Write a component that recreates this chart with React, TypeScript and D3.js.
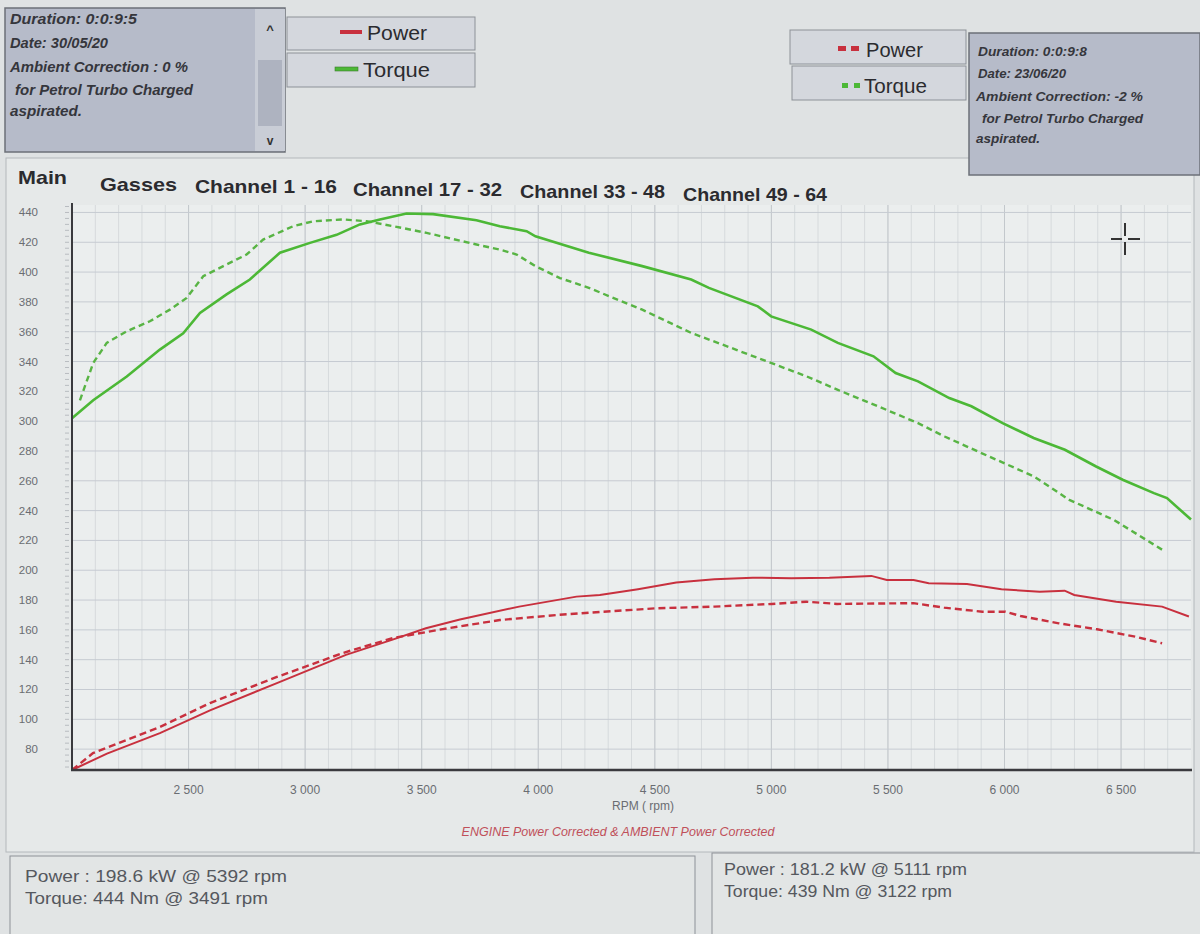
import React from "react";
import * as d3 from "d3";

// ---- Data (rpm, value) ----
const torqueSolid: [number, number][] = [
  [2000, 302], [2091, 314], [2235, 330], [2377, 348], [2477, 359], [2549, 372.6],
  [2663, 385], [2763, 395], [2892, 413], [3021, 419.6], [3135, 425], [3235, 432],
  [3321, 435.3], [3435, 439.3], [3549, 438.9], [3735, 434.8], [3835, 430.8], [3950, 427.4],
  [3988, 424], [4217, 413], [4446, 404], [4656, 395], [4732, 389.4], [4942, 377],
  [4999, 370.3], [5171, 361.4], [5285, 352.5], [5438, 343.5], [5533, 332.3], [5629, 326.7],
  [5763, 315.5], [5858, 310], [5992, 298.7], [6125, 288.7], [6259, 280.8], [6393, 269.6],
  [6507, 260.7], [6641, 251.7], [6697, 248.4], [6800, 234],
];
const torqueDashed: [number, number][] = [
  [2034, 314], [2091, 339], [2149, 352.5], [2235, 360.3], [2334, 367], [2420, 374.8],
  [2492, 382.7], [2563, 397.2], [2649, 404], [2749, 411.8], [2820, 421.8], [2949, 430.8],
  [3035, 434.1], [3163, 435.3], [3264, 434.1], [3378, 430.8], [3521, 426.3], [3735, 418.5],
  [3835, 415.1], [3907, 411.8], [3988, 404], [4093, 396], [4217, 389.4], [4446, 374.8],
  [4656, 359.2], [4847, 348], [5152, 330], [5285, 321], [5457, 310], [5629, 298.7],
  [5743, 289.7], [5934, 276.3], [6125, 263], [6278, 247.2], [6469, 233.8], [6678, 213.6],
];
const powerSolid: [number, number][] = [
  [2000, 66], [2150, 77], [2377, 90.7], [2592, 106], [2879, 124.3], [3175, 143.2],
  [3372, 153.3], [3518, 161.1], [3664, 167], [3918, 175.6], [4164, 182.3], [4264, 183.4],
  [4428, 187.3], [4592, 191.7], [4756, 194], [4920, 195], [5085, 194.6], [5249, 195],
  [5429, 196.2], [5495, 193.5], [5610, 193.5], [5675, 191.3], [5839, 190.8], [5987, 187.3],
  [6151, 185.6], [6258, 186.3], [6299, 183.4], [6479, 178.9], [6676, 175.6], [6791, 169],
];
const powerDashed: [number, number][] = [
  [2000, 66], [2090, 77.3], [2377, 94.8], [2592, 110.9], [2879, 128.4], [3162, 144.5],
  [3376, 154.5], [3590, 160.5], [3835, 166.6], [4082, 170], [4280, 172.2],
  [4510, 174.5], [4756, 175.6], [5002, 177.4], [5150, 178.9], [5282, 177.4], [5610, 177.9],
  [5741, 174.9], [5905, 172.2], [6004, 172.2], [6069, 169.3], [6233, 164.4], [6397, 160.4],
  [6562, 155.4], [6676, 151],
];

const xTicks = [2500, 3000, 3500, 4000, 4500, 5000, 5500, 6000, 6500];
const yTicks = d3.range(80, 441, 20);
const tabs = ["Gasses", "Channel 1 - 16", "Channel 17 - 32", "Channel 33 - 48", "Channel 49 - 64"];
const leftInfo = ["Duration: 0:0:9:5", "Date: 30/05/20", "Ambient Correction : 0 %", "for Petrol Turbo Charged", "aspirated."];
const rightInfo = ["Duration: 0:0:9:8", "Date: 23/06/20", "Ambient Correction: -2 %", "for Petrol Turbo Charged", "aspirated."];
const leftSummary = ["Power : 198.6 kW @ 5392 rpm", "Torque: 444 Nm @ 3491 rpm"];
const rightSummary = ["Power : 181.2 kW @ 5111 rpm", "Torque: 439 Nm @ 3122 rpm"];

const RED = "#c8303e";
const GREEN = "#4cb836";
const GREEN_D = "#58b444";
const FONT = "'Liberation Sans', Arial, sans-serif";

export default function App() {
  const x = d3.scaleLinear().domain([2000, 6800]).range([72, 1191]);
  const y = d3.scaleLinear().domain([66, 445]).range([770, 205]);
  const line = d3
    .line<[number, number]>()
    .x((d) => x(d[0]))
    .y((d) => y(d[1]));
  const fmt = (v: number) => d3.format(",")(v).replace(",", " ");
  const minorY = d3.range(68, 445, 4);
  const minorX = d3.range(2100, 6800, 100);

  const tabX = [100, 195, 353, 520, 683];
  const tabY = [191, 193, 196, 198, 201];
  const tabW = [77, 142, 149, 145, 144];
  const infoX = [10, 10, 10, 15, 10];
  const infoY = [24, 48, 72, 95, 116];
  const infoW = [127, 98, 178, 178, 72];
  const rInfoX = [978, 978, 976, 982, 976];
  const rInfoY = [56, 78, 101, 123, 143];
  const rInfoW = [109, 88, 167, 161, 64];
  const lsW = [262, 243];
  const rsW = [243, 228];

  return (
    <svg
      width={1200}
      height={934}
      style={{ position: "absolute", left: 0, top: 0 }}
      fontFamily={FONT}
    >
      <rect x={0} y={0} width={1200} height={934} fill="#dfe2e3" />
      {/* chart panel */}
      <rect x={6} y={158} width={1188} height={694} fill="#e6e9e9" stroke="#b4b8bc" strokeWidth={1} />
      <rect x={72} y={205} width={1119} height={565} fill="#ebeeee" />

      {/* minor vertical grid */}
      {minorX.map((v) => (
        <line key={"mx" + v} x1={x(v)} x2={x(v)} y1={205} y2={770} stroke="#d6dadc" strokeWidth={1} />
      ))}
      {/* major vertical grid */}
      {xTicks.map((v) => (
        <line key={"vx" + v} x1={x(v)} x2={x(v)} y1={205} y2={770} stroke="#c3c8cc" strokeWidth={1} />
      ))}
      {/* horizontal grid */}
      {yTicks.map((v) => (
        <line key={"hy" + v} x1={72} x2={1191} y1={y(v)} y2={y(v)} stroke="#c6cbd2" strokeWidth={1} />
      ))}

      {/* curves */}
      <path d={line(torqueDashed) || ""} fill="none" stroke={GREEN_D} strokeWidth={2.4} strokeDasharray="6 4" />
      <path d={line(powerDashed) || ""} fill="none" stroke={RED} strokeWidth={2.4} strokeDasharray="7 4" />
      <path d={line(torqueSolid) || ""} fill="none" stroke={GREEN} strokeWidth={2.6} />
      <path d={line(powerSolid) || ""} fill="none" stroke={RED} strokeWidth={2} />

      {/* axes */}
      <line x1={72} x2={72} y1={203} y2={771} stroke="#3a3a3e" strokeWidth={2} />
      <line x1={71} x2={1192} y1={770} y2={770} stroke="#3a3a3e" strokeWidth={2.5} />
      {minorY.map((v) => (
        <line key={"my" + v} x1={65} x2={69} y1={y(v)} y2={y(v)} stroke="#b8bcc0" strokeWidth={1} />
      ))}

      {/* y tick labels */}
      {yTicks.map((v) => (
        <text key={"yl" + v} x={38} y={y(v) + 4} textAnchor="end" fontSize={11.5} fill="#6a6d72">
          {v}
        </text>
      ))}
      {/* x tick labels */}
      {xTicks.map((v) => (
        <text key={"xl" + v} x={x(v)} y={794} textAnchor="middle" fontSize={12} fill="#6a6d72">
          {fmt(v)}
        </text>
      ))}
      <text x={643} y={810} textAnchor="middle" fontSize={12} fill="#6a6d72">RPM ( rpm)</text>
      <text x={618} y={836} textAnchor="middle" fontSize={12.5} fontStyle="italic" fill="#c0505a">
        ENGINE Power Corrected &amp; AMBIENT Power Corrected
      </text>

      {/* tabs */}
      <text x={18} y={184} fontSize={19} fontWeight="bold" fill="#2b2b2f" textLength={49} lengthAdjust="spacingAndGlyphs">Main</text>
      {tabs.map((t, i) => (
        <text key={t} x={tabX[i]} y={tabY[i]} fontSize={19} fontWeight="bold" fill="#2b2b2f" textLength={tabW[i]} lengthAdjust="spacingAndGlyphs">{t}</text>
      ))}

      {/* left info box */}
      <rect x={5} y={8} width={280} height={144} fill="#b6bbc9" stroke="#6c7078" strokeWidth={1.5} />
      <rect x={255} y={9} width={30} height={142} fill="#c9cdd6" />
      <rect x={258} y={60} width={24} height={66} fill="#aeb3c0" />
      <text x={270} y={34} textAnchor="middle" fontSize={13} fontWeight="bold" fill="#333">^</text>
      <text x={270} y={145} textAnchor="middle" fontSize={12} fontWeight="bold" fill="#333">v</text>
      {leftInfo.map((t, i) => (
        <text key={"li" + i} x={infoX[i]} y={infoY[i]} fontSize={14} fontWeight="bold" fontStyle="italic" fill="#35363c" textLength={infoW[i]} lengthAdjust="spacingAndGlyphs">
          {t}
        </text>
      ))}

      {/* left legend */}
      <rect x={287} y={17} width={188} height={33} fill="#d4d7dd" stroke="#8d9198" strokeWidth={1} />
      <rect x={287} y={53} width={188} height={34} fill="#d4d7dd" stroke="#8d9198" strokeWidth={1} />
      <rect x={340} y={30} width={22} height={4} fill={RED} />
      <rect x={335} y={67} width={23} height={4} fill={GREEN} stroke="#3e7a30" strokeWidth={0.6} />
      <text x={367} y={40} fontSize={20} fill="#2b2b2f" textLength={60} lengthAdjust="spacingAndGlyphs">Power</text>
      <text x={363} y={77} fontSize={20} fill="#2b2b2f" textLength={67} lengthAdjust="spacingAndGlyphs">Torque</text>

      {/* right legend */}
      <rect x={790} y={30} width={176} height={34} fill="#d4d7dd" stroke="#8d9198" strokeWidth={1} />
      <rect x={792} y={66} width={174} height={34} fill="#d4d7dd" stroke="#8d9198" strokeWidth={1} />
      <rect x={838} y={46} width={8} height={5} fill={RED} />
      <rect x={851} y={46} width={8} height={5} fill={RED} />
      <rect x={842} y={83} width={6} height={5} fill={GREEN} />
      <rect x={854} y={83} width={6} height={5} fill={GREEN} />
      <text x={866} y={57} fontSize={20} fill="#2b2b2f" textLength={57} lengthAdjust="spacingAndGlyphs">Power</text>
      <text x={864} y={93} fontSize={20} fill="#2b2b2f" textLength={63} lengthAdjust="spacingAndGlyphs">Torque</text>

      {/* right info box */}
      <rect x={969} y={33} width={231} height={142} fill="#b6bbc9" stroke="#6c7078" strokeWidth={1.5} />
      {rightInfo.map((t, i) => (
        <text key={"ri" + i} x={rInfoX[i]} y={rInfoY[i]} fontSize={13.5} fontWeight="bold" fontStyle="italic" fill="#35363c" textLength={rInfoW[i]} lengthAdjust="spacingAndGlyphs">
          {t}
        </text>
      ))}

      {/* cursor crosshair */}
      <line x1={1111} x2={1122} y1={239} y2={239} stroke="#333" strokeWidth={2} />
      <line x1={1128} x2={1140} y1={239} y2={239} stroke="#333" strokeWidth={2} />
      <line x1={1125} x2={1125} y1={223} y2={236} stroke="#333" strokeWidth={2} />
      <line x1={1125} x2={1125} y1={242} y2={255} stroke="#333" strokeWidth={2} />

      {/* bottom summary boxes */}
      <rect x={10} y={856} width={685} height={90} fill="#e2e5e5" stroke="#8d9198" strokeWidth={1} />
      <rect x={712} y={853} width={500} height={90} fill="#e2e5e5" stroke="#8d9198" strokeWidth={1} />
      {leftSummary.map((t, i) => (
        <text key={"ls" + i} x={25} y={882 + i * 22} fontSize={17} fill="#55585e" textLength={lsW[i]} lengthAdjust="spacingAndGlyphs">{t}</text>
      ))}
      {rightSummary.map((t, i) => (
        <text key={"rs" + i} x={724} y={875 + i * 22} fontSize={17} fill="#55585e" textLength={rsW[i]} lengthAdjust="spacingAndGlyphs">{t}</text>
      ))}
    </svg>
  );
}
